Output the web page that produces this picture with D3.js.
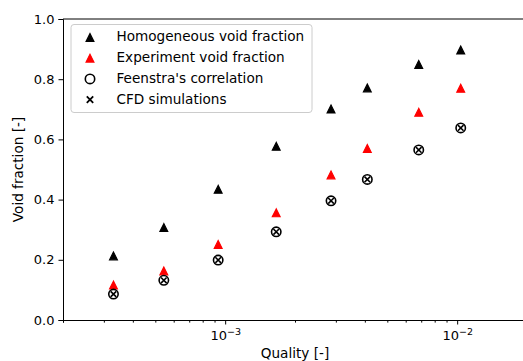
<!DOCTYPE html>
<html>
<head>
<meta charset="utf-8">
<script src="https://d3js.org/d3.v7.min.js"></script>
<style>
  body { margin: 0; background: #fff; }
  svg { font-family: "DejaVu Sans", sans-serif; }
</style>
</head>
<body>
<svg id="chart" width="523" height="361"></svg>
<script>
// values
var quality     = [3.30e-4, 5.44e-4, 9.33e-4, 1.66e-3, 2.86e-3, 4.10e-3, 6.83e-3, 1.036e-2];
var homogeneous = [0.213, 0.307, 0.434, 0.577, 0.701, 0.771, 0.849, 0.897];
var experiment  = [0.116, 0.163, 0.251, 0.356, 0.482, 0.570, 0.690, 0.770];
var feenstra    = [0.086, 0.132, 0.199, 0.293, 0.396, 0.467, 0.565, 0.638];
var cfd         = [0.086, 0.132, 0.199, 0.293, 0.396, 0.467, 0.565, 0.638];
var yTicks      = [0, 0.2, 0.4, 0.6, 0.8, 1.0];
var legendLabels = ["Homogeneous void fraction", "Experiment void fraction",
                    "Feenstra's correlation", "CFD simulations"];

var margin = {top: 19, left: 63},
    width = 464,
    height = 301,
    fs = "13px",
    fsLabel = "13.6px";

var x = d3.scaleLog().domain([2e-4, 2e-2]).range([0, width]);
var y = d3.scaleLinear().domain([0, 1]).range([height, 0]);

var svg = d3.select("#chart")
  .append("g")
    .attr("transform", "translate(" + margin.left + "," + margin.top + ")");

var tri = function(r) { return "M0," + (-r) + "L" + (-r) + "," + r + "L" + r + "," + r + "Z"; };
var crossPath = function(r) { return "M" + (-r) + "," + (-r) + "L" + r + "," + r + "M" + (-r) + "," + r + "L" + r + "," + (-r); };

function zip(ys) { return quality.map(function(q, i) { return {q: q, v: ys[i]}; }); }

// homogeneous
svg.selectAll(".hom").data(zip(homogeneous)).enter().append("path")
  .attr("d", tri(3.9))
  .attr("transform", function(d) { return "translate(" + x(d.q) + "," + y(d.v) + ")"; })
  .attr("fill", "black").attr("stroke", "black").attr("stroke-width", 1.2);

// experiment
svg.selectAll(".exp").data(zip(experiment)).enter().append("path")
  .attr("d", tri(3.9))
  .attr("transform", function(d) { return "translate(" + x(d.q) + "," + y(d.v) + ")"; })
  .attr("fill", "red").attr("stroke", "red").attr("stroke-width", 1.2);

// feenstra
svg.selectAll(".fee").data(zip(feenstra)).enter().append("circle")
  .attr("cx", function(d) { return x(d.q); })
  .attr("cy", function(d) { return y(d.v); })
  .attr("r", 4.7)
  .attr("fill", "none").attr("stroke", "black").attr("stroke-width", 1.6);

// cfd
svg.selectAll(".cfd").data(zip(cfd)).enter().append("path")
  .attr("d", crossPath(2.8))
  .attr("transform", function(d) { return "translate(" + x(d.q) + "," + y(d.v) + ")"; })
  .attr("fill", "none").attr("stroke", "black").attr("stroke-width", 1.6);

// y axis
svg.append("g")
  .call(d3.axisLeft(y).tickValues(yTicks).tickFormat(d3.format(".1f")).tickSize(4.5).tickPadding(4));
// x axis
var xAxis = svg.append("g")
  .attr("transform", "translate(0," + height + ")")
  .call(d3.axisBottom(x).tickValues(x.ticks()).tickFormat("").tickSize(2.6));

xAxis.selectAll(".tick").each(function(d) {
  var e = Math.log10(d);
  if (Math.abs(e - Math.round(e)) < 1e-9) {
    var g = d3.select(this);
    g.select("line").attr("y2", 4.5);
    var t = g.select("text").attr("y", 0).attr("dy", 0)
      .attr("transform", "translate(0,20)").attr("text-anchor", "middle");
    t.append("tspan").text("10");
    t.append("tspan").attr("dy", -5.5).attr("font-size", "9.5px").text("\u2212" + Math.abs(Math.round(e)));
  }
});

svg.selectAll(".domain").attr("stroke", "#000").attr("stroke-width", 1);
svg.selectAll(".tick line").attr("stroke", "#000").attr("stroke-width", 1);
svg.selectAll(".tick text").attr("font-size", fs).attr("fill", "#000")
  .attr("font-family", "DejaVu Sans, sans-serif");

// top and right spines
svg.append("line").attr("x1", 0).attr("x2", width).attr("y1", 0).attr("y2", 0)
  .attr("stroke", "#000").attr("stroke-width", 1);
svg.append("line").attr("x1", width).attr("x2", width).attr("y1", 0).attr("y2", height)
  .attr("stroke", "#000").attr("stroke-width", 1);

// axis labels
svg.append("text")
  .attr("x", width / 2).attr("y", height + 38)
  .attr("text-anchor", "middle").attr("font-size", fsLabel)
  .text("Quality [-]");

svg.append("text")
  .attr("transform", "rotate(-90)")
  .attr("x", -height / 2).attr("y", -40.5)
  .attr("text-anchor", "middle").attr("font-size", fsLabel)
  .text("Void fraction [-]");

// legend
var legend = svg.append("g").attr("transform", "translate(8,5.5)");
legend.append("rect")
  .attr("width", 241).attr("height", 88).attr("rx", 3)
  .attr("fill", "white").attr("fill-opacity", 0.8)
  .attr("stroke", "#cccccc").attr("stroke-width", 1);

var rows = legend.selectAll(".row").data(legendLabels).enter().append("g")
  .attr("transform", function(d, i) { return "translate(0," + (12 + i * 20.7) + ")"; });

rows.append("text")
  .attr("x", 45.5).attr("dy", "0.36em").attr("font-size", fsLabel)
  .text(function(d) { return d; });

rows.each(function(d, i) {
  var g = d3.select(this).append("g").attr("transform", "translate(19,1)");
  if (i === 0) g.append("path").attr("d", tri(3.9)).attr("fill", "black").attr("stroke", "black").attr("stroke-width", 1.2);
  if (i === 1) g.append("path").attr("d", tri(3.9)).attr("fill", "red").attr("stroke", "red").attr("stroke-width", 1.2);
  if (i === 2) g.append("circle").attr("r", 4.7).attr("fill", "none").attr("stroke", "black").attr("stroke-width", 1.6);
  if (i === 3) g.append("path").attr("d", crossPath(3.2)).attr("fill", "none").attr("stroke", "black").attr("stroke-width", 1.8);
});
</script>
</body>
</html>
